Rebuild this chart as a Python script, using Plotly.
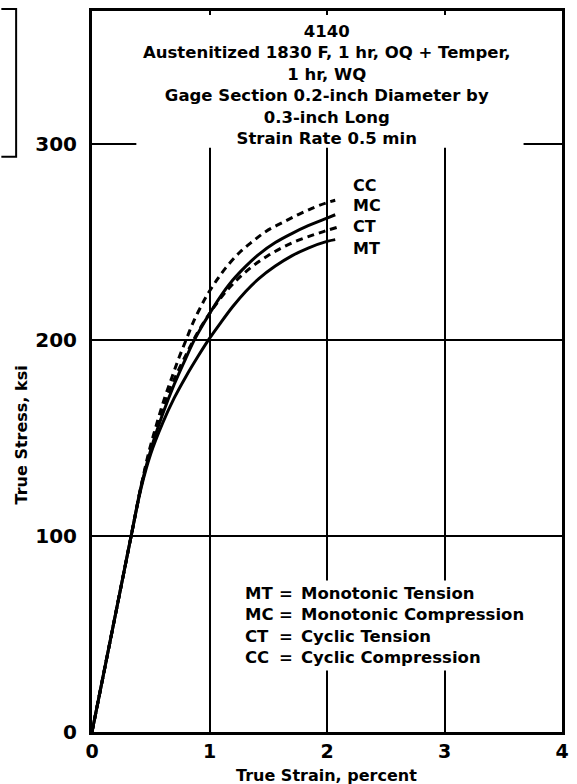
import plotly.graph_objects as go

# True stress-strain curves for 4140 steel (strain in percent, stress in ksi)
mt_strain = [0, 0.333, 0.42, 0.50, 0.60, 0.70, 0.80, 0.90, 0.99, 1.087, 1.20, 1.31, 1.42, 1.56, 1.70, 1.84, 2.00, 2.07]
mt_stress = [0, 100, 125, 142, 157.5, 170.5, 181.5, 191.5, 200, 208.2, 217.3, 225, 231.4, 237.8, 243, 247, 250.4, 251.3]

mc_strain = [0, 0.333, 0.42, 0.50, 0.60, 0.70, 0.80, 0.87, 0.93, 0.99, 1.09, 1.20, 1.31, 1.42, 1.56, 1.70, 1.84, 2.00, 2.07]
mc_stress = [0, 100, 126, 144, 162, 177.5, 191, 200, 206.5, 212.5, 222, 230.8, 237.8, 243.8, 249.8, 254.4, 258.4, 262.3, 264]

ct_strain = [0, 0.333, 0.42, 0.50, 0.60, 0.70, 0.80, 0.85, 0.90, 0.95, 1.00, 1.03, 1.143, 1.255, 1.367, 1.493, 1.618, 1.758, 1.898, 2.00, 2.10]
ct_stress = [0, 100, 126, 145, 164, 180, 192.5, 198.5, 204, 209, 213.5, 216.2, 225, 232, 237.8, 243, 247.2, 251, 254, 256, 257.8]

cc_strain = [0, 0.333, 0.42, 0.48, 0.54, 0.61, 0.68, 0.74, 0.80, 0.864, 0.93, 0.975, 1.06, 1.14, 1.26, 1.37, 1.48, 1.62, 1.76, 1.90, 2.00, 2.07]
cc_stress = [0, 100, 126, 142, 155, 169, 181, 191, 200, 209.5, 217.5, 222.5, 230.5, 237, 245, 250.5, 255.5, 260, 264.2, 268, 270.2, 271.4]

curve_names = ["CC", "MC", "CT", "MT"]
curve_label_stress = [279, 268.5, 257.8, 247]

x_ticks = [0, 1, 2, 3, 4]
y_ticks = [0, 100, 200, 300]

legend_codes = ["MT", "MC", "CT", "CC"]
legend_desc = ["Monotonic Tension", "Monotonic Compression", "Cyclic Tension", "Cyclic Compression"]

title_lines = [
    "4140",
    "Austenitized 1830 F, 1 hr, OQ + Temper,",
    "1 hr, WQ",
    "Gage Section 0.2-inch Diameter by",
    "0.3-inch Long",
    "Strain Rate 0.5 min",
]

FONT = "DejaVu Sans"
INK = "black"

# plot-area geometry in pixels, used to place paper-referenced items
L, R, T, B = 92, 569, 10, 732
W, H = R - L, B - T


def px_x(p):
    return (p - L) / W


def px_y(p):
    return (B - p) / H


fig = go.Figure()

series = [
    (mt_strain, mt_stress, "solid"),
    (mc_strain, mc_stress, "solid"),
    (ct_strain, ct_stress, "7px,5px"),
    (cc_strain, cc_stress, "7px,5px"),
]
for xs, ys, dash in series:
    fig.add_trace(go.Scatter(
        x=xs, y=ys, mode="lines",
        line=dict(color=INK, width=3, dash=dash, shape="spline", smoothing=1.0),
        showlegend=False, hoverinfo="skip",
    ))

annotations = []

# curve end labels
for name, s in zip(curve_names, curve_label_stress):
    annotations.append(dict(
        x=2.2, y=s, xref="x", yref="y", text=name, showarrow=False,
        xanchor="left", yanchor="middle",
        font=dict(family=FONT, size=16, color=INK, weight="bold"),
    ))

# specimen / heat-treatment block
annotations.append(dict(
    x=2.0, y=px_y(84), xref="x", yref="paper",
    text="<br>".join(title_lines), showarrow=False,
    xanchor="center", yanchor="middle", align="center",
    font=dict(family=FONT, size=16.5, color=INK, weight="bold"),
))

# abbreviation key
annotations.append(dict(
    x=1.283, y=54.5, xref="x", yref="y",
    text="<br>".join(legend_codes), showarrow=False,
    xanchor="left", yanchor="middle", align="left",
    font=dict(family=FONT, size=16.5, color=INK, weight="bold"),
))
annotations.append(dict(
    x=1.655, y=54.5, xref="x", yref="y",
    text="<br>".join(["="] * len(legend_codes)), showarrow=False,
    xanchor="center", yanchor="middle", align="center",
    font=dict(family=FONT, size=16.5, color=INK, weight="bold"),
))
annotations.append(dict(
    x=1.744, y=54.5, xref="x", yref="y",
    text="<br>".join(legend_desc), showarrow=False,
    xanchor="left", yanchor="middle", align="left",
    bgcolor="white", borderpad=3,
    font=dict(family=FONT, size=16.5, color=INK, weight="bold"),
))

# axis titles
annotations.append(dict(
    x=px_x(330), y=px_y(776), xref="paper", yref="paper",
    text="True Strain, percent", showarrow=False,
    xanchor="center", yanchor="middle",
    font=dict(family=FONT, size=16, color=INK, weight="bold"),
))
annotations.append(dict(
    x=px_x(20), y=px_y(435), xref="paper", yref="paper",
    text="True Stress, ksi", showarrow=False, textangle=-90,
    xanchor="center", yanchor="middle",
    font=dict(family=FONT, size=16, color=INK, weight="bold"),
))

shapes = [
    # blank field behind the specimen description (breaks the grid there)
    dict(
        type="rect", xref="paper", yref="paper", layer="above",
        x0=px_x(137), x1=px_x(530), y0=px_y(147), y1=px_y(14),
        fillcolor="white", line=dict(width=0),
    ),
    # partial frame of the neighbouring panel at the top-left edge
    dict(
        type="path", xref="paper", yref="paper",
        path=(f"M {px_x(0)} {px_y(8)} L {px_x(15)} {px_y(8)} "
              f"L {px_x(15)} {px_y(156)} L {px_x(0)} {px_y(156)}"),
        line=dict(color=INK, width=2),
    ),
]

fig.update_layout(
    width=577, height=784,
    margin=dict(l=L, r=577 - R, t=T, b=784 - B),
    paper_bgcolor="white", plot_bgcolor="white",
    annotations=annotations, shapes=shapes,
    xaxis=dict(
        range=[0, 4], tickvals=x_ticks, ticktext=[str(v) for v in x_ticks],
        showgrid=True, gridcolor=INK, gridwidth=2, zeroline=False,
        showline=True, linecolor=INK, linewidth=3, mirror=True,
        ticks="", ticklabelstandoff=0,
        tickfont=dict(family=FONT, size=19, color=INK, weight="bold"),
    ),
    yaxis=dict(
        range=[0, 368], tickvals=y_ticks, ticktext=[str(v) for v in y_ticks],
        showgrid=True, gridcolor=INK, gridwidth=2, zeroline=False,
        showline=True, linecolor=INK, linewidth=3, mirror=True,
        ticks="", ticklabelstandoff=8,
        tickfont=dict(family=FONT, size=20, color=INK, weight="bold"),
    ),
)

fig.write_html("out.html")
